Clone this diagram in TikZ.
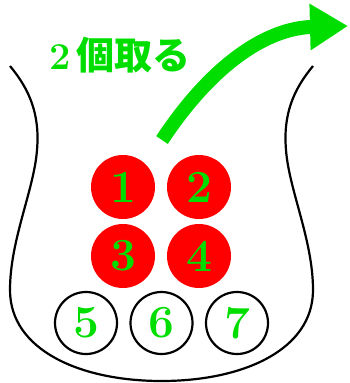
\documentclass[tikz,border=0pt]{standalone}
\usepackage{fontspec}
\newfontfamily\cjk{Noto Sans CJK JP}
\usetikzlibrary{arrows.meta}
\definecolor{brightgreen}{RGB}{0,222,0}
\definecolor{ballred}{RGB}{255,0,0}
\begin{document}
\begin{tikzpicture}[x=1pt,y=-1pt,
  redball/.style={circle,fill=ballred,minimum size=64pt,inner sep=0pt,
    text=brightgreen,font=\fontsize{46}{46}\selectfont\bfseries},
  whiteball/.style={circle,draw=black,line width=2.2pt,minimum size=62pt,inner sep=0pt,
    text=brightgreen,font=\fontsize{46}{46}\selectfont\bfseries},
  bowl/.style={draw=black,line width=2.2pt},
  takearrow/.style={draw=brightgreen,line width=14pt,-{Triangle[length=38pt,width=44pt]}}]
\useasboundingbox (0,0) rectangle (350,383);
% bowl
\draw[bowl] (10,66) .. controls (30,90) and (40,115) .. (37,150)
  .. controls (34,190) and (10,240) .. (10,290)
  .. controls (10,350) and (80,381) .. (161.5,381)
  .. controls (243,381) and (313,350) .. (313,290)
  .. controls (313,240) and (289,190) .. (286,150)
  .. controls (283,115) and (293,90) .. (313,66);
% balls
\node[redball] (c1) at (123,187) {1};
\node[redball] (c2) at (199,187) {2};
\node[redball] (c3) at (123,256) {3};
\node[redball] (c4) at (199,256) {4};
\node[whiteball] (c5) at (86,323) {5};
\node[whiteball] (c6) at (161.5,323) {6};
\node[whiteball] (c7) at (237,323) {7};
% label
\node[text=brightgreen,font=\fontsize{38}{38}\selectfont\bfseries] (lbl) at (120,55) {2\,{\cjk 個取る}};
% arrow
\coordinate (astart) at (162,140);
\coordinate (aend) at (348,26);
\draw[takearrow] (astart) .. controls (215,60) and (270,28) .. (aend);
\end{tikzpicture}
\end{document}
